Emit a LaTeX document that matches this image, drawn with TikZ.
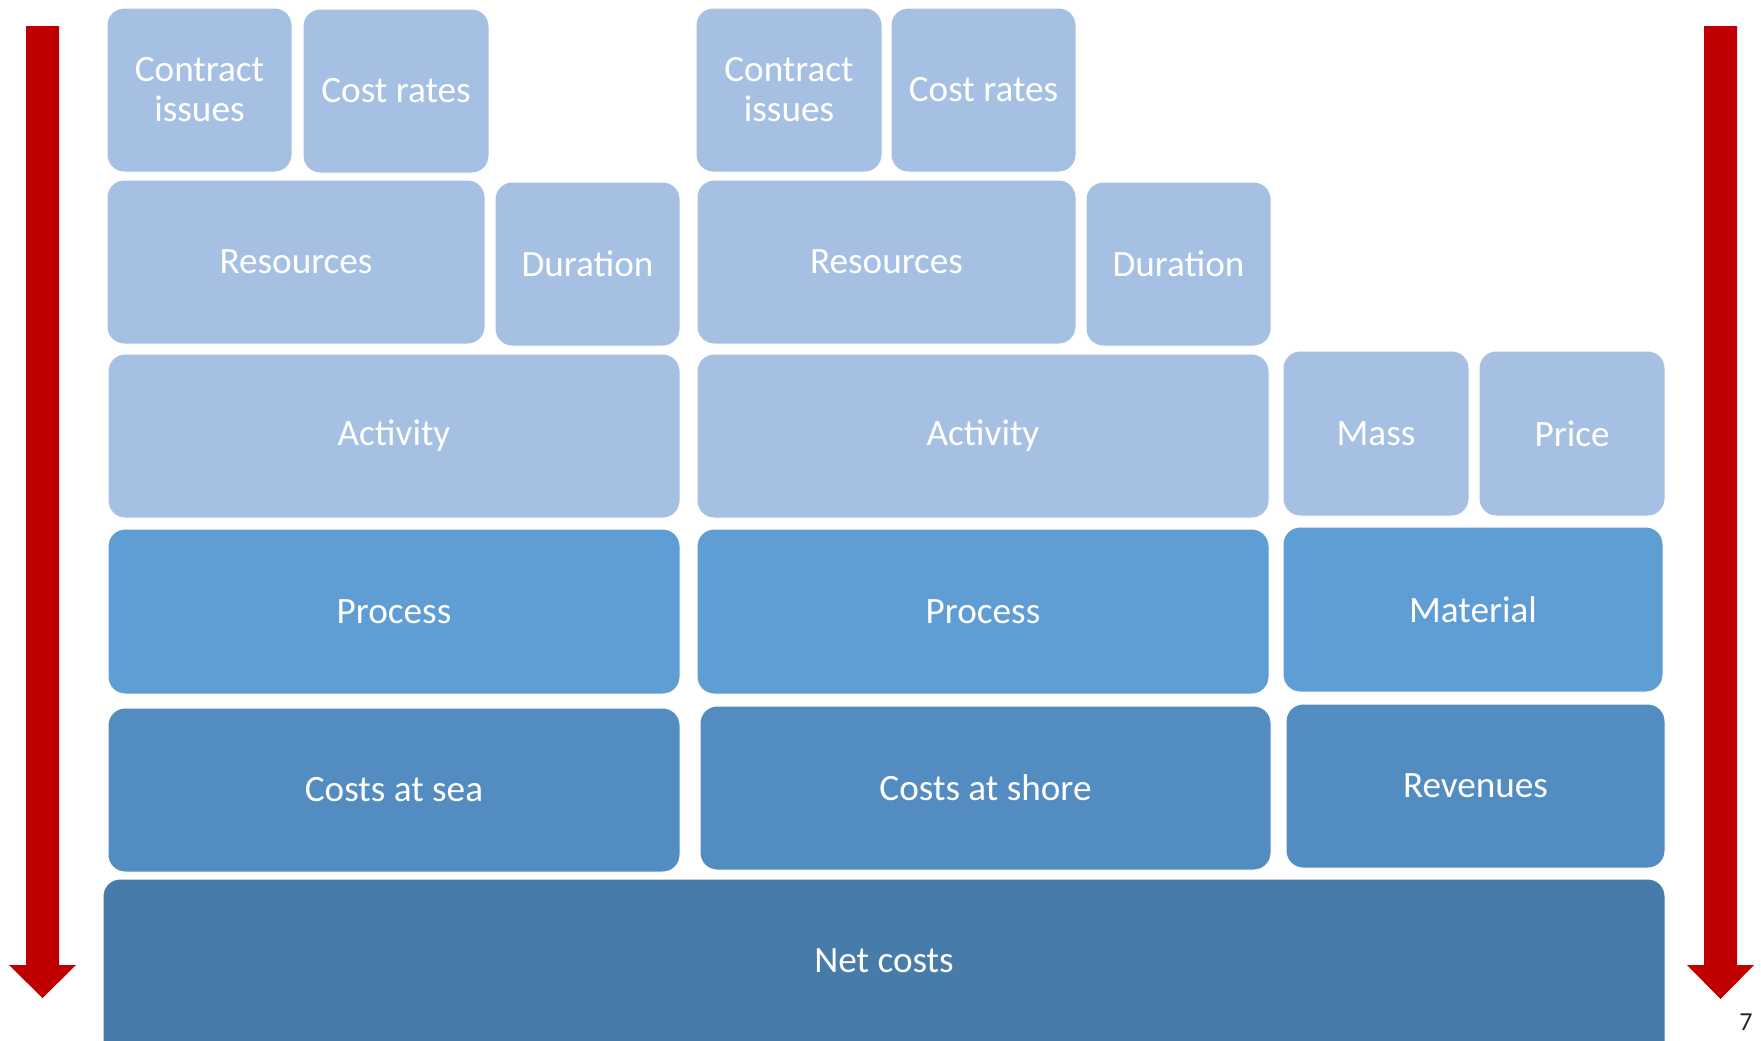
\documentclass[tikz,border=0pt]{standalone}
\usepackage{fontspec}
\setmainfont{Carlito}
\definecolor{lightblk}{HTML}{A5C0E3}
\definecolor{procblk}{HTML}{5F9DD5}
\definecolor{costblk}{HTML}{528CC0}
\definecolor{netblk}{HTML}{477BA9}
\definecolor{arrowred}{HTML}{C00000}
\tikzset{
  blkbase/.style={rectangle, rounded corners=8.5pt, inner sep=0pt, draw=white, line width=0.5pt,
    text=white, align=center, font=\fontsize{18.6}{20}\selectfont},
  lightbox/.style={blkbase, fill=lightblk},
  procbox/.style={blkbase, fill=procblk},
  costbox/.style={blkbase, fill=costblk},
  netbox/.style={blkbase, fill=netblk},
  downarrow/.style={fill=arrowred, draw=none}
}
% \blk{name}{style}{x1}{y1}{x2}{y2}{text}: block spanning the given corners
\newcommand\blk[7]{%
  \pgfmathsetmacro\blkw{(#5-#3)*0.5}%
  \pgfmathsetmacro\blkh{(#6-#4)*0.5}%
  \node[#2, minimum width=\blkw pt, minimum height=\blkh pt] (#1) at ({(#3+#5)/2},{(#4+#6)/2}) {#7};}
\begin{document}
\begin{tikzpicture}[x=0.5pt, y=-0.5pt]
\useasboundingbox (0,0) rectangle (1761,1040);
\clip (0,0) rectangle (1761,1040);

% left column: costs at sea
\blk{ciL}{lightbox}{107}{8}{292}{172}{Contract\\issues}
\blk{crL}{lightbox}{303}{9}{489}{173}{Cost rates}
\blk{resL}{lightbox}{107}{180}{485}{344}{Resources}
\blk{durL}{lightbox}{495}{182}{680}{346}{Duration}
\blk{actL}{lightbox}{108}{354}{680}{518}{Activity}
\blk{procL}{procbox}{108}{529}{680}{694}{Process}
\blk{sea}{costbox}{108}{708}{680}{872}{Costs at sea}

% middle column: costs at shore
\blk{ciM}{lightbox}{696}{8}{882}{172}{Contract\\issues}
\blk{crM}{lightbox}{891}{8}{1076}{172}{Cost rates}
\blk{resM}{lightbox}{697}{180}{1076}{344}{Resources}
\blk{durM}{lightbox}{1086}{182}{1271}{346}{Duration}
\blk{actM}{lightbox}{697}{354}{1269}{518}{Activity}
\blk{procM}{procbox}{697}{529}{1269}{694}{Process}
\blk{shore}{costbox}{700}{706}{1271}{870}{Costs at shore}

% right column: revenues
\blk{mass}{lightbox}{1283}{351}{1469}{516}{Mass}
\blk{price}{lightbox}{1479}{351}{1665}{516}{Price}
\blk{mat}{procbox}{1283}{527}{1663}{692}{Material}
\blk{rev}{costbox}{1286}{704}{1665}{868}{Revenues}

% bottom bar
\blk{net}{netbox}{103}{879}{1665}{1070}{}
\node[text=white, font=\fontsize{18.6}{20}\selectfont] (netlabel) at (884,961) {Net costs};

% downward arrows on both sides
\fill[downarrow] (26,26) -- (59,26) -- (59,965) -- (76,965) -- (42.5,998) -- (9,965) -- (26,965) -- cycle;
\fill[downarrow] (1704,26) -- (1737,26) -- (1737,965) -- (1754,965) -- (1720.5,999) -- (1687,965) -- (1704,965) -- cycle;

% page number
\node[text=black!85, font=\fontsize{13}{14}\selectfont] (pageno) at (1746,1022) {7};
\end{tikzpicture}
\end{document}
